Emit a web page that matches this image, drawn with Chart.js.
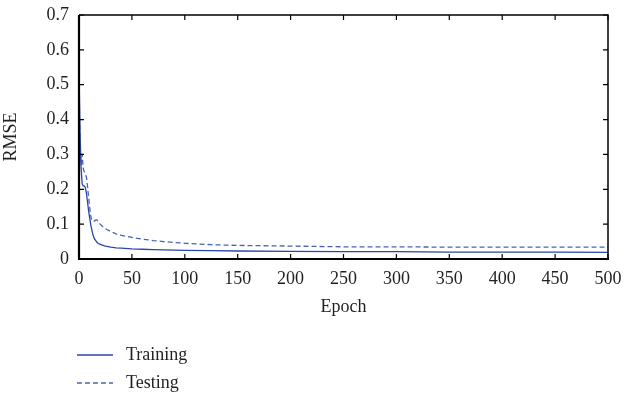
<!DOCTYPE html>
<html>
<head>
<meta charset="utf-8">
<style>
  html, body { margin: 0; padding: 0; background: #fff; }
  #wrap { position: relative; width: 626px; height: 394px; }
</style>
<script src="https://cdn.jsdelivr.net/npm/chart.js@4/dist/chart.umd.min.js"></script>
</head>
<body>
<div id="wrap"><canvas id="rmseChart" width="626" height="394"></canvas></div>
<script>
// ── Data ─────────────────────────────────────────────────────────
const EPOCHS = [0, 1, 2, 3, 4, 5, 6, 7, 8, 9, 10, 11, 12, 13, 14, 15, 16, 17, 18,
  20, 22, 25, 30, 35, 40, 50, 60, 70, 80, 100, 125, 150, 200, 250, 300, 350, 400, 450, 500];

const TRAINING = [0.54, 0.36, 0.26, 0.215, 0.21, 0.21, 0.205, 0.19, 0.165, 0.14, 0.12, 0.10,
  0.085, 0.072, 0.062, 0.056, 0.052, 0.048, 0.045, 0.042, 0.040, 0.037, 0.034, 0.032, 0.031,
  0.029, 0.028, 0.027, 0.026, 0.025, 0.024, 0.023, 0.022, 0.021, 0.021, 0.020, 0.020, 0.020, 0.019];

const TESTING = [0.50, 0.32, 0.27, 0.30, 0.26, 0.25, 0.245, 0.235, 0.21, 0.18, 0.15, 0.125,
  0.112, 0.108, 0.108, 0.110, 0.112, 0.112, 0.108, 0.100, 0.094, 0.087, 0.079, 0.072, 0.068,
  0.062, 0.057, 0.053, 0.050, 0.045, 0.041, 0.039, 0.037, 0.035, 0.035, 0.034, 0.034, 0.034, 0.034];

const X_TICKS = [0, 50, 100, 150, 200, 250, 300, 350, 400, 450, 500];
const Y_TICKS = [0, 0.1, 0.2, 0.3, 0.4, 0.5, 0.6, 0.7];

const FONT = "'Liberation Serif', 'DejaVu Serif', serif";
const TEXT = '#231f20';

// ── Frame with inward ticks ──────────────────────────────────────
const framePlugin = {
  id: 'frame',
  afterDraw(chart) {
    const { ctx, chartArea: a, scales } = chart;
    const t = 5;
    ctx.save();
    ctx.strokeStyle = '#000';
    ctx.lineWidth = 1.2;
    ctx.beginPath();
    X_TICKS.forEach(v => {
      const x = scales.x.getPixelForValue(v);
      ctx.moveTo(x, a.bottom); ctx.lineTo(x, a.bottom - t);
      ctx.moveTo(x, a.top); ctx.lineTo(x, a.top + t);
    });
    Y_TICKS.forEach(v => {
      const y = scales.y.getPixelForValue(v);
      ctx.moveTo(a.left, y); ctx.lineTo(a.left + t, y);
      ctx.moveTo(a.right, y); ctx.lineTo(a.right - t, y);
    });
    ctx.stroke();

    ctx.lineWidth = 1.5;
    ctx.beginPath();
    ctx.moveTo(a.left, a.top); ctx.lineTo(a.right, a.top); ctx.lineTo(a.right, a.bottom);
    ctx.stroke();

    ctx.lineWidth = 2.2;
    ctx.beginPath();
    ctx.moveTo(a.left, a.top); ctx.lineTo(a.left, a.bottom); ctx.lineTo(a.right + 1, a.bottom);
    ctx.stroke();
    ctx.restore();
  }
};

// ── Stacked legend under the plot ────────────────────────────────
const legendPlugin = {
  id: 'stackLegend',
  afterDraw(chart) {
    const { ctx } = chart;
    const x0 = 77, x1 = 113, tx = 126;
    const rows = [355, 383];
    ctx.save();
    ctx.font = `18px ${FONT}`;
    ctx.textBaseline = 'middle';
    chart.data.datasets.forEach((ds, i) => {
      const y = rows[i];
      ctx.strokeStyle = ds.borderColor;
      ctx.lineWidth = ds.borderWidth;
      ctx.setLineDash(ds.borderDash || []);
      ctx.beginPath();
      ctx.moveTo(x0, y); ctx.lineTo(x1, y);
      ctx.stroke();
      ctx.setLineDash([]);
      ctx.fillStyle = TEXT;
      ctx.fillText(ds.label, tx, y);
    });
    ctx.restore();
  }
};

new Chart(document.getElementById('rmseChart'), {
  type: 'line',
  data: {
    labels: EPOCHS,
    datasets: [
      {
        label: 'Training',
        data: TRAINING,
        borderColor: '#2b46a8',
        borderWidth: 1.3,
        pointRadius: 0,
        tension: 0,
        fill: false
      },
      {
        label: 'Testing',
        data: TESTING,
        borderColor: '#4564b8',
        borderWidth: 1.3,
        borderDash: [5, 3],
        pointRadius: 0,
        tension: 0,
        fill: false
      }
    ]
  },
  options: {
    responsive: false,
    animation: false,
    layout: { padding: { top: 15, right: 18, bottom: 76, left: 0 } },
    plugins: {
      legend: { display: false },
      tooltip: { enabled: false }
    },
    scales: {
      x: {
        type: 'linear',
        min: 0,
        max: 500,
        afterBuildTicks: s => { s.ticks = X_TICKS.map(v => ({ value: v })); },
        afterFit: s => { s.height = 59; s.paddingLeft = 0; s.paddingRight = 0; },
        grid: { display: false, drawTicks: false },
        border: { display: false },
        ticks: { color: TEXT, font: { family: FONT, size: 18 }, padding: 9, maxRotation: 0 },
        title: { display: true, text: 'Epoch', color: TEXT, font: { family: FONT, size: 18 }, padding: 0 }
      },
      y: {
        min: 0,
        max: 0.7,
        afterBuildTicks: s => { s.ticks = Y_TICKS.map(v => ({ value: v })); },
        afterFit: s => { s.width = 79; s.paddingTop = 0; s.paddingBottom = 0; },
        grid: { display: false, drawTicks: false },
        border: { display: false },
        ticks: { color: TEXT, font: { family: FONT, size: 18 }, padding: 10, callback: v => String(+v.toFixed(1)) },
        title: { display: true, text: 'RMSE', color: TEXT, font: { family: FONT, size: 18 }, padding: { top: 0, bottom: 0 } }
      }
    }
  },
  plugins: [framePlugin, legendPlugin]
});
</script>
</body>
</html>
